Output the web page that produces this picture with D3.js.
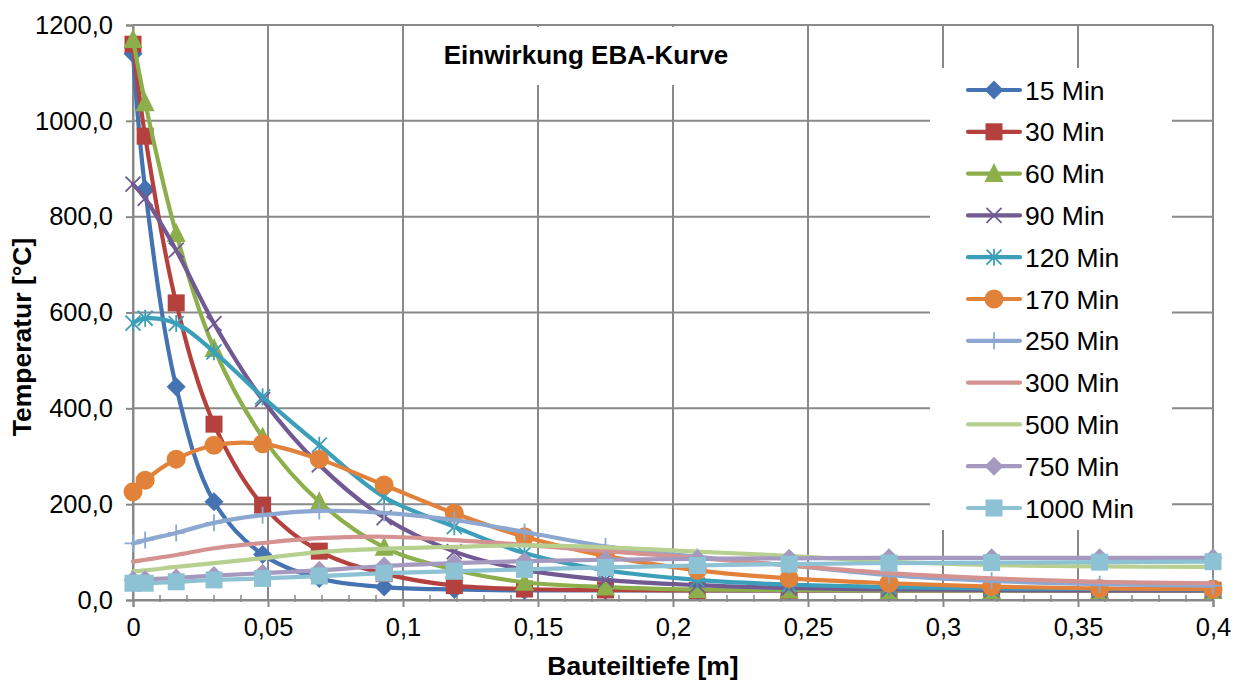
<!DOCTYPE html>
<html>
<head>
<meta charset="utf-8">
<script src="https://cdn.jsdelivr.net/npm/d3@7"></script>
<style>
  html, body { margin: 0; padding: 0; background: #fff; }
  svg { display: block; font-family: Arial, "Liberation Sans", sans-serif; }
</style>
</head>
<body>
<svg id="chart" width="1240" height="682"></svg>
<script>
// ---- data ----
const depths = [0, 0.0045, 0.016, 0.030, 0.048, 0.069, 0.093, 0.119, 0.145, 0.175, 0.209, 0.243, 0.280, 0.318, 0.358, 0.400];
const seriesNames = ["15 Min", "30 Min", "60 Min", "90 Min", "120 Min", "170 Min", "250 Min", "300 Min", "500 Min", "750 Min", "1000 Min"];
const t15   = [1140, 858, 445, 205, 95, 45, 27, 22, 20, 20, 20, 20, 20, 20, 20, 20];
const t30   = [1160, 968, 620, 367, 198, 102, 55, 30, 23, 21, 20, 20, 20, 20, 20, 20];
const t60   = [1170, 1038, 765, 525, 340, 205, 110, 63, 37, 27, 22, 21, 20, 20, 20, 20];
const t90   = [868, 838, 730, 577, 418, 282, 172, 101, 63, 42, 31, 25, 22, 21, 20, 20];
const t120  = [578, 588, 577, 518, 424, 323, 215, 153, 98, 62, 42, 32, 27, 24, 23, 22];
const t170  = [226, 250, 294, 323, 326, 294, 240, 181, 132, 92, 62, 45, 35, 28, 24, 23];
const t250  = [118, 125, 140, 161, 177, 186, 182, 167, 142, 112, 90, 72, 52, 40, 33, 30];
const t300  = [80, 84, 94, 108, 119, 129, 132, 125, 115, 102, 88, 72, 56, 45, 38, 35];
const t500  = [60, 62, 69, 77, 87, 100, 107, 111, 114, 110, 101, 92, 80, 73, 70, 69];
const t750  = [42, 43, 46, 51, 56, 62, 71, 77, 81, 84, 86, 87, 88, 88, 88, 88];
const t1000 = [35, 35, 38, 42, 45, 50, 56, 60, 64, 68, 72, 75, 77, 78, 79, 80];
const seriesValues = [t15, t30, t60, t90, t120, t170, t250, t300, t500, t750, t1000];
const xTicks = [0, 0.05, 0.1, 0.15, 0.2, 0.25, 0.3, 0.35, 0.4];
const yTicks = [0, 200, 400, 600, 800, 1000, 1200];
const chartTitle = "Einwirkung EBA-Kurve";
const xTitle = "Bauteiltiefe [m]";
const yTitle = "Temperatur [°C]";

// ---- styles ----
const colors = ["#4572B1", "#B4413E", "#8CAE4B", "#715A92", "#3B9FB9", "#E2823A",
                "#8CA8D1", "#D49391", "#B7CF8F", "#A699C0", "#8DC2D5"];
const markers = ["diamond", "square", "triangle", "x", "asterisk", "circle", "plus", "none", "none", "diamond", "square"];
const FONT = "Arial, 'Liberation Sans', sans-serif";

const svg = d3.select("#chart");
const L = 133, R = 1213, T = 25, B = 600;
const x = d3.scaleLinear().domain([0, 0.4]).range([L, R]);
const y = d3.scaleLinear().domain([0, 1200]).range([B, T]);
const de = d3.formatLocale({decimal: ",", thousands: ".", grouping: [3], currency: ["", " €"]});
const fmtY = de.format(".1f");
const fmtX = de.format("~g");
const gridColor = "#898989";

// gridlines
svg.append("g").selectAll("line.h").data(yTicks).join("line")
  .attr("x1", L).attr("x2", R).attr("y1", d => y(d)).attr("y2", d => y(d))
  .attr("stroke", gridColor).attr("stroke-width", 2);
svg.append("g").selectAll("line.v").data(xTicks).join("line")
  .attr("x1", d => x(d)).attr("x2", d => x(d)).attr("y1", T).attr("y2", B)
  .attr("stroke", gridColor).attr("stroke-width", 2);

// minor ticks on x axis
const minor = d3.range(0, 41).map(i => i / 100).filter(v => Math.round(v * 100) % 5 !== 0);
svg.append("g").selectAll("line").data(minor).join("line")
  .attr("x1", d => x(d)).attr("x2", d => x(d)).attr("y1", B - 5).attr("y2", B + 2)
  .attr("stroke", gridColor).attr("stroke-width", 1.5);

// axes
const xAxis = d3.axisBottom(x).tickValues(xTicks).tickFormat(fmtX).tickSize(7).tickPadding(11);
const gx = svg.append("g").attr("transform", `translate(0,${B})`).call(xAxis);
gx.select(".domain").attr("stroke", gridColor).attr("stroke-width", 2);
gx.selectAll(".tick line").attr("stroke", gridColor).attr("stroke-width", 2);
gx.selectAll("text").attr("font-size", 25.5).attr("fill", "#000").attr("font-family", FONT);

const yAxis = d3.axisLeft(y).tickValues(yTicks).tickFormat(fmtY).tickSize(7).tickPadding(13);
const gy = svg.append("g").attr("transform", `translate(${L},0)`).call(yAxis);
gy.select(".domain").attr("stroke", gridColor).attr("stroke-width", 2);
gy.selectAll(".tick line").attr("stroke", gridColor).attr("stroke-width", 2);
gy.selectAll("text").attr("font-size", 25.5).attr("fill", "#000").attr("font-family", FONT);

// plot border (top, right)
svg.append("line").attr("x1", L).attr("x2", R).attr("y1", T).attr("y2", T).attr("stroke", gridColor).attr("stroke-width", 2);
svg.append("line").attr("x1", R).attr("x2", R).attr("y1", T).attr("y2", B).attr("stroke", gridColor).attr("stroke-width", 2);

// axis titles
svg.append("text").attr("x", 643).attr("y", 675).attr("text-anchor", "middle")
  .attr("font-size", 26.5).attr("font-weight", "bold").text(xTitle);
svg.append("text").attr("transform", `translate(31,337) rotate(-90)`).attr("text-anchor", "middle")
  .attr("font-size", 26.5).attr("font-weight", "bold").text(yTitle);

// marker drawing
function drawMarker(g, type, color, cx, cy) {
  const s = 8.5;
  if (type === "diamond") {
    g.append("path").attr("d", `M${cx},${cy - s - 1}L${cx + s + 1},${cy}L${cx},${cy + s + 1}L${cx - s - 1},${cy}Z`).attr("fill", color);
  } else if (type === "square") {
    g.append("rect").attr("x", cx - s).attr("y", cy - s).attr("width", 2 * s).attr("height", 2 * s).attr("fill", color);
  } else if (type === "triangle") {
    g.append("path").attr("d", `M${cx},${cy - s - 2}L${cx + s + 1},${cy + s}L${cx - s - 1},${cy + s}Z`).attr("fill", color);
  } else if (type === "circle") {
    g.append("circle").attr("cx", cx).attr("cy", cy).attr("r", 9.5).attr("fill", color);
  } else if (type === "x" || type === "asterisk") {
    const k = 7.5;
    g.append("path").attr("d", `M${cx - k},${cy - k}L${cx + k},${cy + k}M${cx - k},${cy + k}L${cx + k},${cy - k}` +
      (type === "asterisk" ? `M${cx},${cy - k - 1}L${cx},${cy + k + 1}` : ""))
      .attr("stroke", color).attr("stroke-width", 1.8).attr("fill", "none");
  } else if (type === "plus") {
    const k = 8.5;
    g.append("path").attr("d", `M${cx},${cy - k}L${cx},${cy + k}M${cx - k},${cy}L${cx + k},${cy}`)
      .attr("stroke", color).attr("stroke-width", 1.8).attr("fill", "none");
  }
}

// series
const line = d3.line().x(d => x(d[0])).y(d => y(d[1])).curve(d3.curveCatmullRom.alpha(0.5));
seriesValues.forEach((vals, i) => {
  const pts = depths.map((d, j) => [d, vals[j]]);
  const g = svg.append("g");
  g.append("path").attr("d", line(pts)).attr("fill", "none").attr("stroke", colors[i])
    .attr("stroke-width", 4.2).attr("stroke-linecap", "round").attr("stroke-linejoin", "round");
  pts.forEach(p => drawMarker(g, markers[i], colors[i], x(p[0]), y(p[1])));
});

// title box
svg.append("rect").attr("x", 410).attr("y", 27).attr("width", 392).attr("height", 58).attr("fill", "#fff");
svg.append("text").attr("x", 586).attr("y", 64).attr("text-anchor", "middle")
  .attr("font-size", 26).attr("font-weight", "bold").text(chartTitle);

// legend
svg.append("rect").attr("x", 930).attr("y", 68).attr("width", 242).attr("height", 462).attr("fill", "#fff");
const lg = svg.append("g");
seriesNames.forEach((name, i) => {
  const cy = 90 + i * 41.8;
  lg.append("line").attr("x1", 968).attr("x2", 1020).attr("y1", cy).attr("y2", cy)
    .attr("stroke", colors[i]).attr("stroke-width", 4.2).attr("stroke-linecap", "round");
  drawMarker(lg, markers[i], colors[i], 994, cy);
  lg.append("text").attr("x", 1025).attr("y", cy + 9.5).attr("font-size", 26.5).attr("fill", "#000").text(name);
});
</script>
</body>
</html>
